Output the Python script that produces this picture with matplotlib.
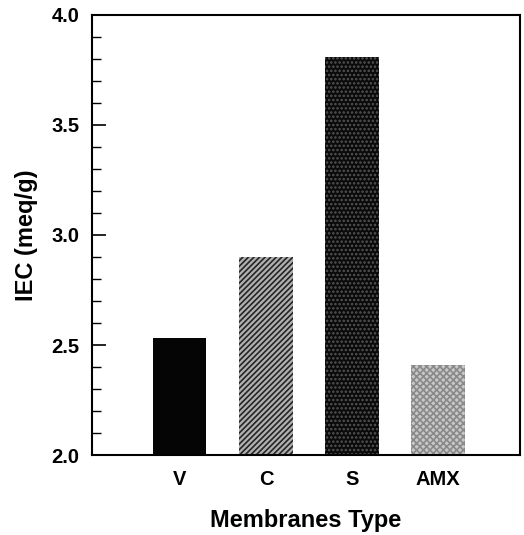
import matplotlib
matplotlib.use("Agg")
import matplotlib.pyplot as plt
from matplotlib.ticker import MultipleLocator

categories = ["V", "C", "S", "AMX"]
iec_values = [2.53, 2.90, 3.81, 2.41]
y_ticks = [2.0, 2.5, 3.0, 3.5, 4.0]

plt.rcParams['font.family'] = ['Liberation Sans', 'DejaVu Sans']
plt.rcParams['hatch.linewidth'] = 1.2

fig = plt.figure(figsize=(5.24, 5.35), dpi=100)
ax = fig.add_axes([0.1756, 0.1495, 0.8164, 0.8225])

styles = [
    dict(facecolor="#050505", hatch=None, edgecolor="#050505"),
    dict(facecolor="#b0b0b0", hatch="//////", edgecolor="#252525"),
    dict(facecolor="#0a0a0a", hatch="....", edgecolor="#555555"),
    dict(facecolor="#c8c8c8", hatch="xxxxx", edgecolor="#8a8a8a"),
]
x = list(range(len(categories)))
for xi, v, st in zip(x, iec_values, styles):
    ax.bar(xi, v - 2.0, bottom=2.0, width=0.62, linewidth=0, **st)

ax.set_xlim(-1.02, 3.95)
ax.set_ylim(2.0, 4.0)
ax.set_xticks(x)
ax.set_xticklabels(categories, fontsize=14.5, fontweight="bold")
ax.set_yticks(y_ticks)
ax.set_yticklabels([f"{t:.1f}" for t in y_ticks], fontsize=14.5, fontweight="bold")
ax.yaxis.set_minor_locator(MultipleLocator(0.1))
ax.tick_params(axis="y", which="major", direction="in", length=10, width=1.2, pad=9)
ax.tick_params(axis="y", which="minor", direction="in", length=6.5, width=1.0)
ax.tick_params(axis="x", which="both", length=0, pad=11)
for s in ax.spines.values():
    s.set_linewidth(1.5)

ax.set_xlabel("Membranes Type", fontsize=17, fontweight="bold", labelpad=14)
ax.set_ylabel("IEC (meq/g)", fontsize=17, fontweight="bold", labelpad=10)

fig.savefig("out.png", dpi=100)
